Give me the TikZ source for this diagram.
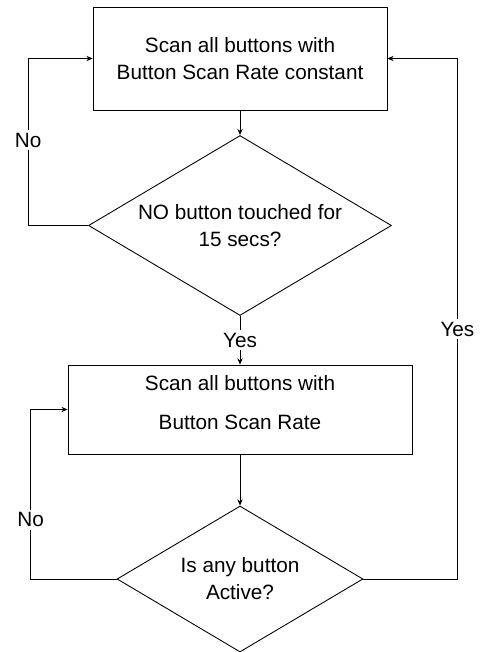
\documentclass[tikz,border=0pt]{standalone}
\usepackage{fontspec}
\setmainfont{Liberation Sans}
\usetikzlibrary{shapes.geometric,arrows.meta}
\tikzset{
  box/.style={draw,line width=.5pt,align=center,inner sep=0pt},
  decide/.style={draw,diamond,aspect=1.68,line width=.5pt,align=center,inner sep=0pt},
  flow/.style={line width=.5pt,-{Stealth[length=3.5pt,width=3pt]}},
  lbl/.style={fill=white,inner sep=1.5pt}
}
\begin{document}
\begin{tikzpicture}[x=0.02cm,y=-0.02cm,font=\fontsize{11.8}{15.3}\selectfont]
  \useasboundingbox (0,0) rectangle (480,652);
  % boxes and decisions
  \node[box,minimum width=5.88cm,minimum height=2.06cm] (scanconst) at (240,58.5)
    {Scan all buttons with\\Button Scan Rate constant};
  \node[decide,minimum width=6.06cm,minimum height=3.6cm] (notouch) at (240,225.5)
    {NO button touched for\\15 secs?};
  \node[box,minimum width=6.88cm,minimum height=1.78cm,
    label={[yshift=0.14cm,align=center]center:Scan all buttons with\\[6.7pt]Button Scan Rate}]
    (scanrate) at (240,409.5) {};
  \node[decide,minimum width=4.92cm,minimum height=2.92cm] (active) at (240,579)
    {Is any button\\Active?};
  % connectors
  \draw[flow] (scanconst) -- (notouch);
  \draw[flow] (notouch) -- node[lbl] {Yes} (scanrate);
  \draw[flow] (scanrate) -- (active);
  \draw[flow] (notouch.west) -- ++(-60,0) |- node[lbl,pos=.255] {No} (scanconst.west);
  \draw[flow] (active.west) -- ++(-86,0) |- node[lbl,pos=.175] {No} (scanrate.west);
  \draw[flow] (active.east) -- ++(94,0) |- node[lbl,pos=.24] {Yes} (scanconst.east);
\end{tikzpicture}
\end{document}
